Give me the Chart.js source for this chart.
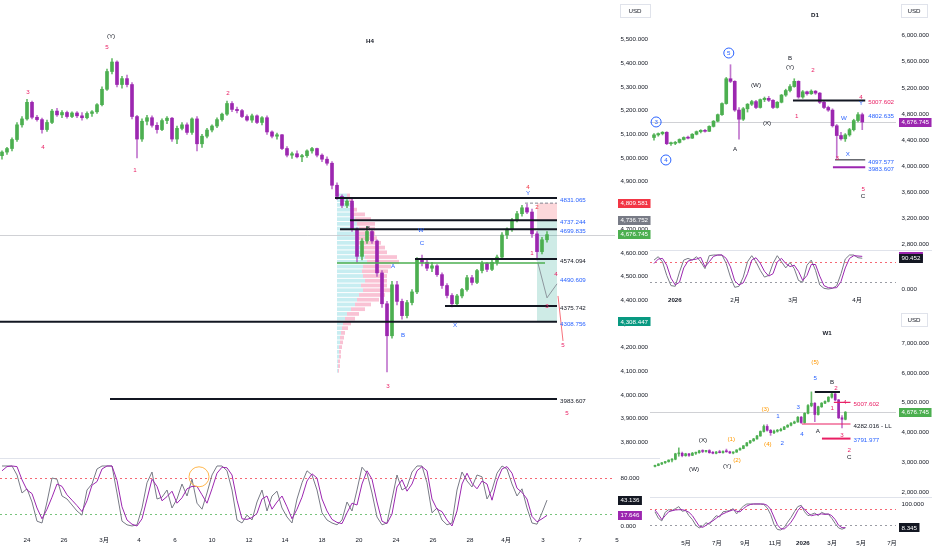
<!DOCTYPE html>
<html><head><meta charset="utf-8"><title>XAUUSD H4 / D1 / W1</title>
<script src="https://cdn.jsdelivr.net/npm/chart.js@4.4.1/dist/chart.umd.min.js"></script>
<style>
html,body{margin:0;padding:0;background:#ffffff;}
body{width:932px;height:550px;position:relative;overflow:hidden;}
canvas{position:absolute;display:block;}
</style></head><body>
<canvas id="h4Price" style="left:0px;top:0px"></canvas>
<canvas id="h4Stoch" style="left:0px;top:458px"></canvas>
<canvas id="d1Price" style="left:650px;top:0px"></canvas>
<canvas id="d1Stoch" style="left:650px;top:250px"></canvas>
<canvas id="w1Price" style="left:650px;top:303px"></canvas>
<canvas id="w1Stoch" style="left:650px;top:497px"></canvas>
<script>
// ---------------- DATA ----------------
// H4 candles (bar index = x)
const h4Open = [5010,5025,5040,5078,5140,5165,5235,5172,5162,5120,
 5150,5198,5182,5192,5175,5190,5178,5170,5188,5195,
 5225,5290,5365,5405,5310,5335,5310,5175,5080,5155,
 5170,5138,5120,5158,5168,5080,5125,5140,5108,5165,
 5060,5092,5118,5135,5162,5185,5230,5205,5200,5175,
 5160,5178,5150,5170,5110,5092,5098,5040,5012,5018,
 5005,5010,5030,5040,5012,4995,4978,4885,4838,4800,
 4818,4700,4585,4650,4690,4650,4515,4385,4250,4465,
 4395,4335,4390,4435,4570,4560,4535,4545,4508,4462,
 4420,4385,4418,4445,4495,4475,4525,4555,4530,4560,
 4582,4675,4700,4738,4765,4790,4772,4680,4605,4655];
const h4High = [5030,5045,5085,5150,5175,5248,5240,5180,5168,5160,
 5205,5210,5200,5198,5195,5196,5192,5195,5200,5230,
 5300,5375,5420,5410,5345,5350,5318,5180,5165,5180,
 5178,5150,5165,5175,5172,5135,5150,5148,5170,5175,
 5100,5125,5140,5170,5190,5240,5238,5215,5205,5182,
 5185,5182,5175,5178,5115,5105,5100,5048,5025,5030,
 5015,5035,5045,5042,5018,5005,4985,4895,4845,4825,
 4830,4705,4660,4710,4695,4655,4525,4395,4480,4480,
 4405,4400,4445,4580,4590,4575,4560,4550,4515,4470,
 4428,4425,4450,4505,4505,4530,4565,4560,4568,4590,
 4685,4705,4745,4775,4800,4805,4785,4690,4665,4690];
const h4Low = [4995,5015,5030,5070,5130,5160,5165,5155,5105,5112,
 5145,5175,5170,5168,5170,5170,5160,5165,5175,5188,
 5220,5285,5355,5300,5295,5300,5165,5000,5070,5140,
 5130,5105,5115,5145,5070,5060,5118,5100,5100,5030,
 5045,5085,5110,5128,5155,5180,5195,5190,5170,5155,
 5150,5145,5140,5100,5085,5080,5035,5005,4998,5000,
 4985,5002,5020,5005,4985,4970,4870,4825,4790,4790,
 4690,4560,4570,4640,4640,4500,4370,4097,4240,4380,
 4320,4325,4380,4428,4545,4525,4520,4500,4450,4410,
 4372,4378,4410,4438,4465,4470,4515,4520,4525,4548,
 4575,4660,4690,4730,4755,4765,4665,4570,4595,4645];
const h4Close = [5025,5040,5078,5140,5165,5235,5172,5162,5120,5150,
 5198,5182,5192,5175,5190,5178,5170,5188,5195,5225,
 5290,5365,5405,5310,5335,5310,5175,5080,5155,5170,
 5138,5120,5158,5168,5080,5125,5140,5108,5165,5060,
 5092,5118,5135,5162,5185,5230,5205,5200,5175,5160,
 5178,5150,5170,5110,5092,5098,5040,5012,5018,5005,
 5010,5030,5040,5012,4995,4978,4885,4838,4800,4818,
 4700,4585,4650,4690,4650,4515,4385,4250,4465,4395,
 4335,4390,4435,4570,4560,4535,4545,4508,4462,4420,
 4385,4418,4445,4495,4475,4525,4555,4530,4560,4582,
 4675,4700,4738,4765,4790,4772,4680,4605,4655,4676.745];
// H4 stochastic %K (grey) and %D (purple)
const h4StochK = [100,100,100,85,55,62,40,8,5,40,
 80,78,50,45,35,25,18,60,70,95,
 100,100,100,55,8,2,0,2,30,72,
 90,45,48,60,30,45,70,50,78,38,
 28,55,85,100,100,92,60,10,5,18,
 10,40,60,25,50,58,30,15,5,45,
 72,92,85,60,22,10,5,2,10,40,
 25,60,98,88,55,15,2,5,45,85,
 60,65,90,100,100,72,22,30,10,2,
 5,60,90,75,65,85,82,45,60,88,
 100,95,70,50,62,30,5,3,22,43.136];
const h4StochD = [92,99,100,99,77,60,54,30,12,28,
 48,70,66,52,43,34,24,42,68,74,
 95,100,100,76,32,10,3,0,12,45,
 78,66,42,49,58,38,47,62,66,66,
 52,38,62,88,98,97,85,43,12,11,
 14,21,45,50,28,40,50,32,12,28,
 48,75,87,80,45,25,11,6,4,22,
 38,35,70,92,78,40,8,4,20,65,
 77,58,70,92,99,92,45,28,24,10,
 0,25,70,88,71,62,75,70,43,75,
 95,99,88,63,56,45,16,7,12,17.646];
const h4TickPos = [5.0,12.4,20.4,27.4,34.6,42.0,49.4,56.6,64.0,71.4,78.8,86.2,93.6,100.8,108.2,115.6,123.0];
const h4TickLabels = ['24','26','3月','4','6','10','12','14','18','20','24','26','28','4月','3','7','5'];
const h4PriceTicks = [3800,3900,4000,4100,4200,4300,4400,4500,4600,4700,4800,4900,5000,5100,5200,5300,5400,5500];
// H4 volume profile (price rows, up / down volume)
const vpPrice = [4840,4820,4800,4780,4760,4740,4720,4700,4680,4660,4640,4620,4600,4580,4560,4540,4520,4500,4480,4460,4440,4420,4400,4380,4360,4340,4320,4300,4280,4260,4240,4220,4200,4180,4160,4140,4120,4100];
const vpUp = [10,12,13,14,16,18,20,22,20,20,22,24,25,28,30,26,25,26,28,24,26,22,20,18,14,10,8,6,5,4,3,3,2,2,2,1,1,1];
const vpDown = [3,4,4,6,12,16,18,16,18,20,22,24,25,32,32,28,26,24,22,26,28,26,22,16,14,12,10,8,6,4,4,3,3,2,2,2,2,1];

// D1 candles
const d1Open = [4440,4480,4500,4520,4345,4350,4365,4410,4440,4430,
 4490,4530,4550,4535,4610,4690,4790,4960,5340,5300,
 4860,4720,4880,4950,4990,4900,5020,5040,5010,4900,
 4980,5090,5160,5220,5300,5060,5140,5110,5150,5120,
 4980,4900,4860,4620,4470,4420,4480,4560,4700,4790];
const d1High = [4500,4510,4530,4530,4370,4380,4420,4450,4460,4500,
 4540,4560,4565,4620,4700,4800,4970,5360,5555,5310,
 4900,4900,4960,5010,5010,5030,5060,5070,5020,4990,
 5100,5180,5250,5340,5310,5160,5150,5170,5160,5130,
 5000,4920,4880,4640,4520,4500,4580,4720,4820,4815];
const d1Low = [4400,4460,4480,4330,4320,4330,4355,4400,4420,4425,
 4480,4510,4520,4530,4600,4680,4780,4950,5280,4840,
 4415,4700,4830,4930,4880,4890,4990,4990,4880,4890,
 4970,5070,5140,5210,5040,5040,5090,5100,5100,4960,
 4880,4840,4600,4120,4400,4380,4460,4540,4680,4560];
const d1Close = [4480,4500,4520,4345,4350,4365,4410,4440,4430,4490,
 4530,4550,4535,4610,4690,4790,4960,5340,5300,4860,
 4720,4880,4950,4990,4900,5020,5040,5010,4900,4980,
 5090,5160,5220,5300,5060,5140,5110,5150,5120,4980,
 4900,4860,4620,4470,4420,4480,4560,4700,4790,4676.745];
const d1StochK = [85,95,80,40,10,8,50,85,90,85,
 95,80,60,98,100,100,100,75,35,5,
 8,35,80,98,80,55,35,40,75,98,
 80,62,78,60,25,20,70,85,55,12,
 2,0,2,10,45,88,100,100,92,90.452];
const d1StochD = [75,88,90,70,32,12,20,62,82,86,
 88,93,65,80,96,100,100,90,65,24,
 12,18,45,85,92,76,52,38,45,80,
 90,75,66,70,52,25,40,72,72,38,
 10,4,3,4,22,62,90,98,97,96];
const d1TickPos = [4.9,19.1,32.7,47.8];
const d1TickLabels = ['2026','2月','3月','4月'];
const d1PriceTicks = [2800,3200,3600,4000,4400,4800,5200,5600,6000];

// W1 candles
const w1Open = [2860,2890,2940,2980,3020,3070,3100,3280,3300,3220,
 3280,3230,3300,3320,3380,3360,3390,3320,3300,3340,
 3320,3360,3350,3310,3340,3410,3460,3550,3650,3720,
 3780,3880,4030,4200,4070,3990,4040,4060,4100,4180,
 4240,4310,4350,4510,4330,4640,4900,4980,4600,4860,
 4980,5040,5180,5290,5090,4490,4440];
const w1High = [2900,2950,2990,3030,3080,3120,3300,3480,3340,3300,
 3300,3330,3340,3400,3420,3400,3420,3360,3360,3400,
 3380,3440,3370,3350,3420,3480,3560,3660,3730,3800,
 3900,4050,4250,4260,4100,4080,4100,4140,4200,4260,
 4330,4380,4530,4540,4660,4930,5360,5000,4880,5000,
 5060,5200,5330,5320,5110,4560,4700];
const w1Low = [2840,2880,2920,2960,3000,3010,3080,3200,3180,3200,
 3190,3220,3260,3300,3320,3340,3300,3280,3280,3310,
 3300,3330,3290,3280,3330,3400,3450,3540,3630,3700,
 3770,3870,4010,4040,3900,3960,4010,4040,4090,4170,
 4220,4290,4340,4300,4310,4620,4860,4360,4580,4840,
 4960,5020,5150,5060,4460,4150,4420];
const w1Close = [2890,2940,2980,3020,3070,3100,3280,3300,3220,3280,
 3230,3300,3320,3380,3360,3390,3320,3300,3340,3320,
 3360,3350,3310,3340,3410,3460,3550,3650,3720,3780,
 3880,4030,4200,4070,3990,4040,4060,4100,4180,4240,
 4310,4350,4510,4330,4640,4900,4980,4600,4860,4980,
 5040,5180,5290,5090,4490,4440,4676.745];
const w1StochK = [70,45,35,68,78,75,82,90,72,75,
 55,40,18,8,15,28,22,40,55,50,
 70,72,75,82,62,78,92,100,100,100,
 100,100,98,85,60,22,2,0,10,30,
 48,70,90,95,70,55,60,65,55,68,
 62,60,45,25,8,3,8.345];
const w1StochD = [77,60,40,55,70,74,77,78,78,75,
 68,55,35,15,10,18,28,35,45,55,
 62,68,73,78,72,70,82,92,98,100,
 100,100,100,95,80,50,20,5,4,15,
 30,50,75,90,80,65,55,58,60,62,
 60,62,55,40,18,9,9];
const w1TickPos = [9.1,18.2,26.5,35.3,43.5,52.1,60.6,69.7];
const w1TickLabels = ['5月','7月','9月','11月','2026','3月','5月','7月'];
const w1PriceTicks = [2000,3000,4000,5000,6000,7000];

// ---------------- DRAWINGS (wave counts, levels) ----------------
// [text, bar, price, colour key, style]
const h4Waves = [
 ['H4',73.6,5494,'k','bold'],['(Y)',21.8,5515,'k'],['5',21.0,5468,'p'],['3',5.2,5278,'p'],
 ['4',8.2,5046,'p'],['1',26.6,4949,'p'],['2',45.2,5274,'p'],['4',105.2,4878,'r'],['Y',105.2,4852,'b'],
 ['W',83.8,4696,'b'],['C',84.0,4641,'b'],['A',78.2,4544,'b'],['B',80.2,4253,'b'],['3',77.2,4038,'p'],
 ['X',90.6,4295,'b'],['1',106.0,4599,'p'],['2',107.0,4793,'r'],['4',110.8,4511,'p'],['3',109.0,4376,'p'],
 ['5',112.2,4211,'p'],['5',113.0,3924,'p'],['B',73.2,4706,'k']
];
// [price, from bar, to bar, line key, label, label colour key]
const h4Levels = [
 [4831.065,66.6,111,'k','4831.065','b'],
 [4737.244,69.6,111,'k','4737.244','b'],
 [4699.835,67.6,111,'k','4699.835','b'],
 [4574.094,82.6,111,'k','4574.094','k'],
 [4557.000,67.0,108.6,'g','',''],
 [4490.609,null,111,'','4490.609','b'],
 [4375.742,88.6,111,'k','4375.742','k'],
 [4308.756,-0.4,111,'k','4308.756','b'],
 [3983.607,21.6,111,'k','3983.607','k']
];
const h4Projection = [[107.2,4556],[109.0,4410],[111.0,4469]];
const h4ProjectionDown = [[111.2,4418],[112.2,4228]];
const d1Waves = [
 ['D1',37.9,6316,'k','bold'],['5',17.6,5734,'b','circle'],['3',0.5,4678,'b','circle'],['4',2.8,4096,'b','circle'],
 ['A',19.1,4264,'k'],['(W)',24.0,5244,'k'],['(X)',26.6,4662,'k'],['B',32.0,5657,'k'],['(Y)',32.0,5520,'k'],
 ['2',37.4,5474,'p'],['1',33.6,4769,'p'],['4',48.7,5060,'p'],['Y',48.7,4968,'b'],['W',44.7,4739,'b'],
 ['X',45.6,4188,'b'],['3',43.1,4126,'p'],['5',49.2,3652,'p'],['C',49.2,3545,'k']
];
const d1Levels = [
 [5007.602,32.7,49.7,'k','5007.602','p'],
 [4802.635,null,49.7,'','4802.635','b'],
 [4097.577,42.6,49.7,'k1','4097.577','b'],
 [3983.607,42.1,49.7,'m','3983.607','b']
];
const w1Waves = [
 ['W1',50.6,7336,'k','bold'],['(W)',11.5,2771,'k'],['(X)',14.1,3745,'k'],['(Y)',21.2,2872,'k'],
 ['(1)',22.4,3778,'o'],['(2)',24.1,3074,'o'],['(3)',32.4,4785,'o'],['(4)',33.2,3610,'o'],
 ['1',36.2,4550,'b'],['2',37.4,3644,'b'],['3',42.1,4852,'b'],['4',43.2,3946,'b'],
 ['(5)',47.1,6362,'o'],['5',47.1,5825,'b'],['B',52.1,5691,'k'],['2',53.2,5490,'p'],['1',52.1,4819,'p'],
 ['4',55.9,5020,'p'],['A',47.9,4047,'k'],['3',55.0,3913,'p'],['2',57.1,3409,'p'],['C',57.1,3174,'k']
];
const w1Levels = [
 [5356.000,47.0,54.4,'k','',''],
 [5007.602,52.6,57.5,'p','5007.602','p'],
 [4282.016,43.2,57.5,'p','4282.016 - LL','k'],
 [3791.977,49.1,57.5,'p2','3791.977','b']
];

// ---------------- STYLE ----------------
const FONT = "'Liberation Sans','Noto Sans CJK SC',Arial,sans-serif";
const FS = 6.2;
const COL = {k:'#131722',k1:'#131722',p:'#e91e63',p2:'#e91e63',r:'#f23645',b:'#2962ff',o:'#ff9800',g:'#4caf50',m:'#9c27b0'};
const LW = {k:2,k1:1,g:1.5,m:2,p:1.2,p2:2};
const UP = '#4caf50', DOWN = '#9c27b0';
const UP_WICK = 'rgba(76,175,80,0.85)', DOWN_WICK = 'rgba(171,71,188,0.75)';
const GREY = '#787b86', PURPLE = '#9c27b0';
const fmt3 = v => Number(v).toLocaleString('en-US',{minimumFractionDigits:3,maximumFractionDigits:3});

Chart.defaults.font.family = FONT;
Chart.defaults.font.size = FS;
Chart.defaults.color = '#131722';

const LAST_H4 = h4Close[h4Close.length-1];
const LAST_D1 = d1Close[d1Close.length-1];
const LAST_W1 = w1Close[w1Close.length-1];

const ANNOT = {
 h4Price: {
  priceLines:[{v:LAST_H4,c:'rgba(120,123,134,0.35)'}],
  rects:[{x0:107,x1:111,y0:4736.752,y1:4809.581,fill:'rgba(242,54,69,0.20)'},
         {x0:107,x1:111,y0:4308.447,y1:4736.752,fill:'rgba(8,153,129,0.20)'}],
  profile:{anchor:67,step:20,k:0.2,prices:vpPrice,up:vpUp,down:vpDown,upColor:'rgba(0,172,193,0.22)',downColor:'rgba(236,64,122,0.32)'},
  levels:h4Levels,
  segs:[{v:4809.581,from:104.6,to:111,c:'rgba(120,123,134,0.9)',dash:[3,2]}],
  paths:[{pts:h4Projection,c:'rgba(120,123,134,0.75)'},{pts:h4ProjectionDown,c:'rgba(242,54,69,0.7)'}],
  texts:h4Waves,
  axisBoxes:[{v:4809.581,bg:'#f23645'},{v:4736.752,bg:'#787b86'},{v:LAST_H4,bg:'#4caf50'},{v:4308.447,bg:'#089981'}],
  headers:[{t:'USD',x:620,y:4,w:30,h:13}]
 },
 h4Stoch: {
  priceLines:[{v:80,c:'rgba(242,54,69,0.75)',dash:[2,3]},{v:20,c:'rgba(76,175,80,0.75)',dash:[2,3]}],
  circles:[{x:39.4,v:82,r:10,c:'#ffb74d'}],
  axisBoxes:[{v:h4StochK[h4StochK.length-1],bg:'#131722'},{v:h4StochD[h4StochD.length-1],bg:PURPLE}],
  sep:true
 },
 d1Price: {
  priceLines:[{v:LAST_D1,c:'rgba(120,123,134,0.35)'}],
  levels:d1Levels, texts:d1Waves,
  axisBoxes:[{v:LAST_D1,bg:PURPLE}],
  headers:[{t:'USD',x:251,y:4,w:26,h:13}]
 },
 d1Stoch: {
  priceLines:[{v:80,c:'rgba(242,54,69,0.75)',dash:[2,3]},{v:20,c:'rgba(120,123,134,0.75)',dash:[2,3]}],
  axisBoxes:[{v:d1StochD[d1StochD.length-1],bg:PURPLE},{v:d1StochK[d1StochK.length-1],bg:'#131722'}],
  sep:true
 },
 w1Price: {
  priceLines:[{v:LAST_W1,c:'rgba(120,123,134,0.35)'}],
  levels:w1Levels, texts:w1Waves,
  axisBoxes:[{v:LAST_W1,bg:'#4caf50'}],
  headers:[{t:'USD',x:251,y:10,w:26,h:13}]
 },
 w1Stoch: {
  priceLines:[{v:80,c:'rgba(242,54,69,0.75)',dash:[2,3]},{v:20,c:'rgba(120,123,134,0.75)',dash:[2,3]}],
  axisBoxes:[{v:w1StochK[w1StochK.length-1],bg:'#131722'}],
  sep:true
 }
};

const annotPlugin = {
 id:'annot',
 beforeDatasetsDraw(chart){
  const o = ANNOT[chart.canvas.id]; if(!o) return;
  const {ctx, chartArea:A} = chart; const X = chart.scales.x, Y = chart.scales.y;
  ctx.save();
  ctx.beginPath(); ctx.rect(A.left,A.top,A.right-A.left,A.bottom-A.top); ctx.clip();
  (o.priceLines||[]).forEach(p=>{
   const y = Math.round(Y.getPixelForValue(p.v))+0.5;
   ctx.strokeStyle=p.c; ctx.lineWidth=1; ctx.setLineDash(p.dash||[]);
   ctx.beginPath(); ctx.moveTo(A.left,y); ctx.lineTo(A.right,y); ctx.stroke();
  });
  ctx.setLineDash([]);
  (o.rects||[]).forEach(r=>{
   const x0=X.getPixelForValue(r.x0), x1=X.getPixelForValue(r.x1);
   const y0=Y.getPixelForValue(r.y0), y1=Y.getPixelForValue(r.y1);
   ctx.fillStyle=r.fill; ctx.fillRect(Math.min(x0,x1),Math.min(y0,y1),Math.abs(x1-x0),Math.abs(y1-y0));
  });
  const P=o.profile;
  if(P){
   const x0=X.getPixelForValue(P.anchor);
   P.prices.forEach((p,i)=>{
    const yt=Y.getPixelForValue(p+P.step/2), yb=Y.getPixelForValue(p-P.step/2);
    const xu=X.getPixelForValue(P.anchor+P.up[i]*P.k);
    const xd=X.getPixelForValue(P.anchor+(P.up[i]+P.down[i])*P.k);
    ctx.fillStyle=P.upColor; ctx.fillRect(x0,yt,xu-x0,yb-yt-1);
    ctx.fillStyle=P.downColor; ctx.fillRect(xu,yt,xd-xu,yb-yt-1);
   });
  }
  ctx.restore();
 },
 afterDatasetsDraw(chart){
  const o = ANNOT[chart.canvas.id]; if(!o) return;
  const {ctx, chartArea:A} = chart; const X = chart.scales.x, Y = chart.scales.y;
  ctx.save();
  ctx.beginPath(); ctx.rect(A.left,A.top,A.right-A.left,A.bottom-A.top); ctx.clip();
  (o.levels||[]).forEach(l=>{
   const [v,from,to,lk]=l;
   const y=Y.getPixelForValue(v);
   if(from!==null && lk){
    ctx.strokeStyle=COL[lk]; ctx.lineWidth=LW[lk]; ctx.setLineDash([]);
    ctx.beginPath(); ctx.moveTo(X.getPixelForValue(from),y); ctx.lineTo(X.getPixelForValue(to),y); ctx.stroke();
   }
  });
  (o.segs||[]).forEach(s=>{
   const y=Y.getPixelForValue(s.v);
   ctx.strokeStyle=s.c; ctx.lineWidth=1; ctx.setLineDash(s.dash||[]);
   ctx.beginPath(); ctx.moveTo(X.getPixelForValue(s.from),y); ctx.lineTo(X.getPixelForValue(s.to),y); ctx.stroke();
  });
  ctx.setLineDash([]);
  (o.paths||[]).forEach(p=>{
   ctx.strokeStyle=p.c; ctx.lineWidth=1; ctx.beginPath();
   p.pts.forEach((pt,i)=>{const px=X.getPixelForValue(pt[0]), py=Y.getPixelForValue(pt[1]); if(i===0) ctx.moveTo(px,py); else ctx.lineTo(px,py);});
   ctx.stroke();
  });
  (o.circles||[]).forEach(c=>{
   ctx.strokeStyle=c.c; ctx.lineWidth=1; ctx.beginPath();
   ctx.arc(X.getPixelForValue(c.x),Y.getPixelForValue(c.v),c.r,0,Math.PI*2); ctx.stroke();
  });
  ctx.restore();
  ctx.save();
  (o.levels||[]).forEach(l=>{
   const [v,,to,,label,lc]=l;
   if(!label) return;
   const y=Y.getPixelForValue(v);
   ctx.font=FS+'px '+FONT; ctx.fillStyle=COL[lc]; ctx.textAlign='left'; ctx.textBaseline='middle';
   ctx.fillText(label,X.getPixelForValue(to)+3,y+2);
  });
  (o.texts||[]).forEach(t=>{
   const [s,bx,pv,ck,st]=t;
   const px=X.getPixelForValue(bx), py=Y.getPixelForValue(pv);
   ctx.font=(st==='bold'?'bold ':'')+FS+'px '+FONT;
   ctx.fillStyle=COL[ck]; ctx.textAlign='center'; ctx.textBaseline='middle';
   if(st==='circle'){ctx.strokeStyle=COL[ck]; ctx.lineWidth=1; ctx.beginPath(); ctx.arc(px,py,5,0,Math.PI*2); ctx.stroke();}
   ctx.fillText(s,px,py+0.5);
  });
  ctx.restore();
 },
 afterDraw(chart){
  const o = ANNOT[chart.canvas.id]; if(!o) return;
  const {ctx, chartArea:A} = chart; const Y = chart.scales.y;
  ctx.save();
  if(o.sep){ctx.strokeStyle='#e0e3eb'; ctx.lineWidth=1; ctx.beginPath(); ctx.moveTo(0,A.top+0.5); ctx.lineTo(chart.width,A.top+0.5); ctx.stroke();}
  (o.axisBoxes||[]).forEach(b=>{
   const y=Y.getPixelForValue(b.v); const txt=fmt3(b.v);
   ctx.font=FS+'px '+FONT; const w=ctx.measureText(txt).width+5; const x0=A.right+3;
   ctx.fillStyle=b.bg; ctx.fillRect(x0,Math.round(y-4.5),w,9);
   ctx.fillStyle='#ffffff'; ctx.textAlign='left'; ctx.textBaseline='middle'; ctx.fillText(txt,x0+2.5,y);
  });
  (o.headers||[]).forEach(h=>{
   ctx.strokeStyle='#e0e3eb'; ctx.lineWidth=1; ctx.strokeRect(h.x+0.5,h.y+0.5,h.w,h.h);
   ctx.fillStyle='#131722'; ctx.font=FS+'px '+FONT; ctx.textAlign='center'; ctx.textBaseline='middle';
   ctx.fillText(h.t,h.x+h.w/2,h.y+h.h/2+0.5);
  });
  ctx.restore();
 }
};
Chart.register(annotPlugin);

// ---------------- BUILDERS ----------------
function makeY(min,max,ticks,width){
 return {type:'linear',position:'right',min:min,max:max,
  afterBuildTicks:s=>{s.ticks=ticks.map(v=>({value:v}));},
  afterFit:s=>{s.width=width; s.paddingTop=0; s.paddingBottom=0;},
  grid:{display:false,drawTicks:false},border:{display:false},
  ticks:{padding:5.5,autoSkip:false,color:'#131722',font:{size:FS,family:FONT},callback:v=>fmt3(v)}};
}
function makeX(min,max,pos,labels,height){
 const show=!!labels;
 return {type:'linear',min:min,max:max,offset:false,display:show,
  afterBuildTicks:s=>{s.ticks=(pos||[]).map(v=>({value:v}));},
  afterFit:s=>{if(show) s.height=height; s.paddingLeft=0; s.paddingRight=0;},
  grid:{display:false,drawTicks:false},border:{display:false},
  ticks:{padding:6.5,autoSkip:false,maxRotation:0,minRotation:0,color:'#131722',
   font:c=>({size:FS,family:FONT,weight:(labels&&labels[c.index]==='2026')?'bold':'normal'}),
   callback:(v,i)=>labels?labels[i]:''}};
}
function candleSets(O,H,L,C,bodyW){
 const body=O.map((o,i)=>C[i]>=o?UP:DOWN);
 const wick=O.map((o,i)=>C[i]>=o?UP_WICK:DOWN_WICK);
 return [
  {type:'bar',order:1,data:O.map((o,i)=>({x:i,y:[o,C[i]]})),backgroundColor:body,borderWidth:0,barThickness:bodyW,minBarLength:1,grouped:false},
  {type:'bar',order:2,data:O.map((o,i)=>({x:i,y:[L[i],H[i]]})),backgroundColor:wick,borderWidth:0,barThickness:1,grouped:false}
 ];
}
function lineSet(vals,color){
 return {type:'line',data:vals.map((v,i)=>({x:i,y:v})),borderColor:color,borderWidth:1,pointRadius:0,tension:0,fill:false};
}
function makeChart(id,w,h,type,datasets,scales){
 const cv=document.getElementById(id); cv.width=w; cv.height=h;
 return new Chart(cv,{type:type,data:{datasets:datasets},options:{responsive:false,animation:false,events:[],
  layout:{padding:0},plugins:{legend:{display:false},tooltip:{enabled:false}},scales:scales}});
}

// ---------------- CHARTS ----------------
makeChart('h4Price',660,458,'bar',candleSets(h4Open,h4High,h4Low,h4Close,3),
 {x:makeX(-0.4,122.6,null,null,0),y:makeY(3734.2,5666.7,h4PriceTicks,45)});
makeChart('h4Stoch',660,92,'line',[lineSet(h4StochD,PURPLE),lineSet(h4StochK,GREY)],
 {x:makeX(-0.4,122.6,h4TickPos,h4TickLabels,20),y:makeY(-6.67,113.33,[0,80],45)});
makeChart('d1Price',282,250,'bar',candleSets(d1Open,d1High,d1Low,d1Close,3),
 {x:makeX(-0.94,56.94,null,null,0),y:makeY(2717.3,6545.8,d1PriceTicks,36)});
makeChart('d1Stoch',282,58,'line',[lineSet(d1StochD,PURPLE),lineSet(d1StochK,GREY)],
 {x:makeX(-0.94,56.94,d1TickPos,d1TickLabels,18),y:makeY(-2.9,114.7,[0],36)});
makeChart('w1Price',282,194,'bar',candleSets(w1Open,w1High,w1Low,w1Close,2),
 {x:makeX(-1.47,70.88,null,null,0),y:makeY(1832,8342,w1PriceTicks,36)});
makeChart('w1Stoch',282,53,'line',[lineSet(w1StochD,PURPLE),lineSet(w1StochK,GREY)],
 {x:makeX(-1.47,70.88,w1TickPos,w1TickLabels,17),y:makeY(-11.5,126.9,[100],36)});
</script>
</body></html>
